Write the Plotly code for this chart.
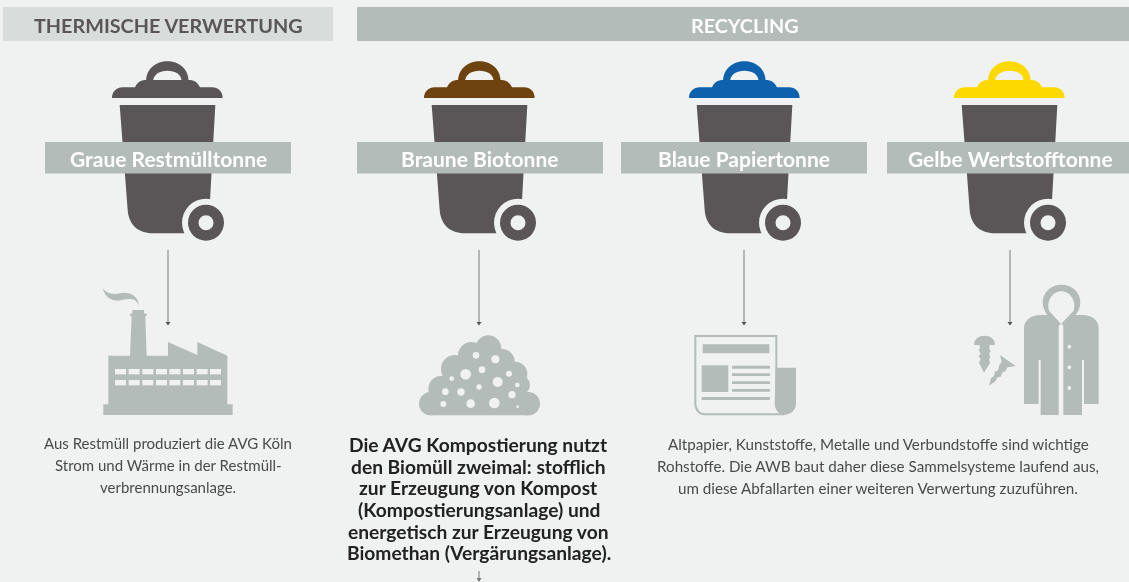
import plotly.graph_objects as go

# ---- content -------------------------------------------------------------
headers = ["THERMISCHE VERWERTUNG", "RECYCLING"]
bin_labels = ["Graue Restmülltonne", "Braune Biotonne", "Blaue Papiertonne", "Gelbe Wertstofftonne"]
lid_colors = ["#5a5658", "#6f4310", "#0e62ad", "#fdd900"]
bin_centers = [167, 479, 744, 1009]
text_left = ["Aus Restmüll produziert die AVG Köln", "Strom und Wärme in der Restmüll-", "verbrennungsanlage."]
text_mid = ["Die AVG Kompostierung nutzt", "den Biomüll zweimal: stofflich", "zur Erzeugung von Kompost",
            "(Kompostierungsanlage) und", "energetisch zur Erzeugung von", "Biomethan (Vergärungsanlage)."]
text_right = ["Altpapier, Kunststoffe, Metalle und Verbundstoffe sind wichtige",
              "Rohstoffe. Die AWB baut daher diese Sammelsysteme laufend aus,",
              "um diese Abfallarten einer weiteren Verwertung zuzuführen."]

BG = "#f0f2f1"
BAND = "#b3bcb8"
HEAD = "#d8dcda"
DARK = "#5a5658"
FONT = "Lato"

shapes, annotations = [], []


def path(d, fill, line=None, w=0):
    shapes.append(dict(type="path", path=d, fillcolor=fill, line=dict(color=line or fill, width=w), layer="above"))


def rect(x0, y0, x1, y1, fill):
    shapes.append(dict(type="rect", x0=x0, y0=y0, x1=x1, y1=y1, fillcolor=fill, line=dict(width=0), layer="above"))


def circ(cx, cy, r, fill):
    shapes.append(dict(type="circle", x0=cx - r, y0=cy - r, x1=cx + r, y1=cy + r, fillcolor=fill,
                       line=dict(width=0), layer="above"))


def text(x, y, s, size, color, weight=400, family=FONT):
    annotations.append(dict(x=x, y=y, text=s, showarrow=False, xanchor="center", yanchor="middle",
                            font=dict(family=family, size=size, color=color, weight=weight)))


def zoomed(ox, oy, d):
    """Translate a path written in 3x zoom pixels to page pixels."""
    out = []
    for tok in d.split():
        if tok[0].isalpha():
            cmd, tok = tok[0], tok[1:]
            out.append(cmd)
            if not tok:
                continue
        x, y = tok.split(",")
        out.append(f"{ox + float(x) / 3:.2f},{oy + float(y) / 3:.2f}")
    return " ".join(out)


def bin_icon(cx, lid):
    def p(d):
        return zoomed(cx - 167, 0, d)
    path(p("M438,245 C438,205 470,184 502,184 C535,184 566,205 566,245 L545,245 C545,222 525,212 502,212 "
           "C480,212 460,222 459,245 Z"), lid)
    path(p("M336,294 C336,275 350,262 368,262 L405,262 C412,245 425,240 440,240 L565,240 C580,240 592,245 "
           "600,262 L636,262 C655,262 668,275 668,294 Z"), lid)
    path(p("M359,315 L646,315 L630,600 L600,700 L460,700 C410,700 386,670 383,630 Z"), DARK)
    circ(cx + 39, 222.7, 24, BG)
    circ(cx + 39, 222.7, 18, DARK)
    circ(cx + 39, 222.7, 7.5, BG)


# ---- header bars ------------------------------------------------------------
rect(3, 7, 333, 41, HEAD)
rect(357, 7, 1129, 41, BAND)
text(168, 24.5, headers[0], 19.8, DARK, 700)
text(745, 24.5, headers[1], 19.8, "#ffffff", 700)

# ---- bins and label bands -----------------------------------------------------
for c, col in zip(bin_centers, lid_colors):
    bin_icon(c, col)
for x0, lab in zip([45, 357, 621, 887], bin_labels):
    rect(x0, 142, x0 + 246, 173.5, BAND)
    text(x0 + 123, 158.5, lab, 21, "#ffffff", 700)

# ---- arrows ----------------------------------------------------------------------
for x in [168, 479, 744, 1010]:
    shapes.append(dict(type="line", x0=x, x1=x, y0=250, y1=324, line=dict(color="#777b7a", width=1), layer="above"))
    path(f"M{x - 2.5},322 L{x + 2.5},322 L{x},325.5 Z", "#555555")
shapes.append(dict(type="line", x0=479, x1=479, y0=571, y1=581, line=dict(color="#777b7a", width=1), layer="above"))
path("M476.5,578 L481.5,578 L479,582 Z", "#777b7a")

# ---- factory ------------------------------------------------------------------------
f = lambda d: zoomed(80, 270, d)
path(f("M70,403 L85,403 L85,257 L150,257 L155,138 L150,138 L150,132 L157,130 L157,120 L192,120 L192,130 L200,132 "
       "L200,138 L196,138 L200,257 L264,257 L264,216 L352,255 L352,216 L442,257 L442,403 L458,403 L458,435 L70,435 Z"), BAND)
path(f("M68,55 C75,85 100,97 125,90 C150,84 170,85 176,107 C178,85 155,65 125,69 C100,75 80,72 68,55 Z"), BAND)
for wx in [105, 146, 187, 228, 268, 309, 350, 390]:
    for wy in [297, 330]:
        rect(80 + wx / 3, 270 + wy / 3, 80 + (wx + 33) / 3, 270 + (wy + 16) / 3, BG)

# ---- compost heap ---------------------------------------------------------------------
cz = lambda x, y: (400 + x / 3, 320 + y / 3)
for x, y, r in [(265, 85, 39), (214, 106, 40), (306, 125, 38), (165, 147, 42), (345, 162, 37), (125, 207, 40),
                (360, 195, 30), (92, 251, 35), (385, 251, 35)]:
    cx, cy = cz(x, y)
    circ(cx, cy, r / 3, BAND)
path(zoomed(400, 320, "M92,286 L92,220 L170,110 L300,90 L375,190 L385,286 Z"), BAND)
for x, y, r in [(228, 106, 10), (286, 118, 12), (197, 163, 16), (246, 149, 10), (327, 161, 9), (155, 176, 7),
                (293, 186, 15), (352, 195, 7), (237, 201, 8), (136, 215, 10), (183, 216, 11), (336, 224, 11),
                (130, 252, 9), (212, 251, 13), (283, 249, 16), (353, 260, 4)]:
    cx, cy = cz(x, y)
    circ(cx, cy, r / 3, BG)

# ---- newspaper -------------------------------------------------------------------------
n = lambda d: zoomed(680, 320, d)
path(n("M46,48 L289,48 L289,250 C289,270 300,280 312,283 L75,283 C58,283 46,270 46,250 Z"), BG, BAND, 2)
path(n("M287,143 L348,143 L348,250 C348,272 330,284 315,284 C296,284 284,270 284,250 Z"), BAND)
for x0, y0, x1, y1 in [(68, 73, 268, 100), (65, 136, 145, 216), (156, 137, 270, 146), (156, 160, 270, 168),
                       (156, 184, 270, 192), (156, 207, 270, 215), (65, 231, 270, 240)]:
    rect(680 + x0 / 3, 320 + y0 / 3, 680 + x1 / 3, 320 + y1 / 3, BAND)

# ---- jacket and screws -------------------------------------------------------------------
j = lambda d: zoomed(960, 270, d)
path(j("M296,168 L296,435 L242,435 L242,270 L236,270 L236,402 L192,402 L192,175 C192,150 215,135 240,135 L262,135 "
       "C252,122 248,108 248,97 C248,65 275,44 304,44 C335,44 361,65 361,97 C361,108 357,122 347,135 L368,135 "
       "C395,135 416,150 416,175 L416,402 L372,402 L372,270 L366,270 L366,435 L310,435 L310,168 L304,160 Z"), BAND)
path(j("M303,162 L267,122 C258,90 280,64 304,64 C328,64 350,90 341,122 Z"), BG)
for y in [230, 292, 354]:
    circ(960 + 328 / 3, 270 + y / 3, 1.9, BG)
path(j("M42,225 C42,205 58,197 73,197 C90,197 105,205 105,225 Z"), BAND)
path(j("M58,225 L88,225 L88,235 L92,245 L87,250 L91,262 L87,268 L90,280 L84,288 L72,308 L62,288 L57,278 L62,268 "
       "L56,258 L62,250 L56,240 L60,235 Z"), BAND)
path(j("M120,255 L167,288 L142,292 L135,305 L128,305 L122,320 L112,322 L107,333 L87,348 L93,325 L102,318 L105,305 "
       "L115,300 L118,285 L125,275 Z"), BAND)

# ---- body copy ---------------------------------------------------------------------------
for y, s in zip([443, 465, 487], text_left):
    text(168, y, s, 15, "#4a4a4a", 400)
for y, s in zip([444.5, 466, 487.5, 509.5, 531.5, 552.5], text_mid):
    text(478.5, y, s, 19.2, "#222222", 700)
for y, s in zip([444, 466, 488], text_right):
    text(878, y, s, 15.2, "#4a4a4a", 400)

fig = go.Figure()
fig.update_layout(
    width=1129, height=582, margin=dict(l=0, r=0, t=0, b=0),
    paper_bgcolor=BG, plot_bgcolor=BG, showlegend=False,
    xaxis=dict(range=[0, 1129], visible=False, fixedrange=True),
    yaxis=dict(range=[582, 0], visible=False, fixedrange=True),
    shapes=shapes, annotations=annotations,
)
fig.write_html("out.html", config=dict(displayModeBar=False),
               post_script="document.body.style.margin='0';document.body.style.overflow='hidden';"
                           "document.documentElement.style.background='" + BG + "';"
                           "document.body.style.filter='blur(0.5px)';")
